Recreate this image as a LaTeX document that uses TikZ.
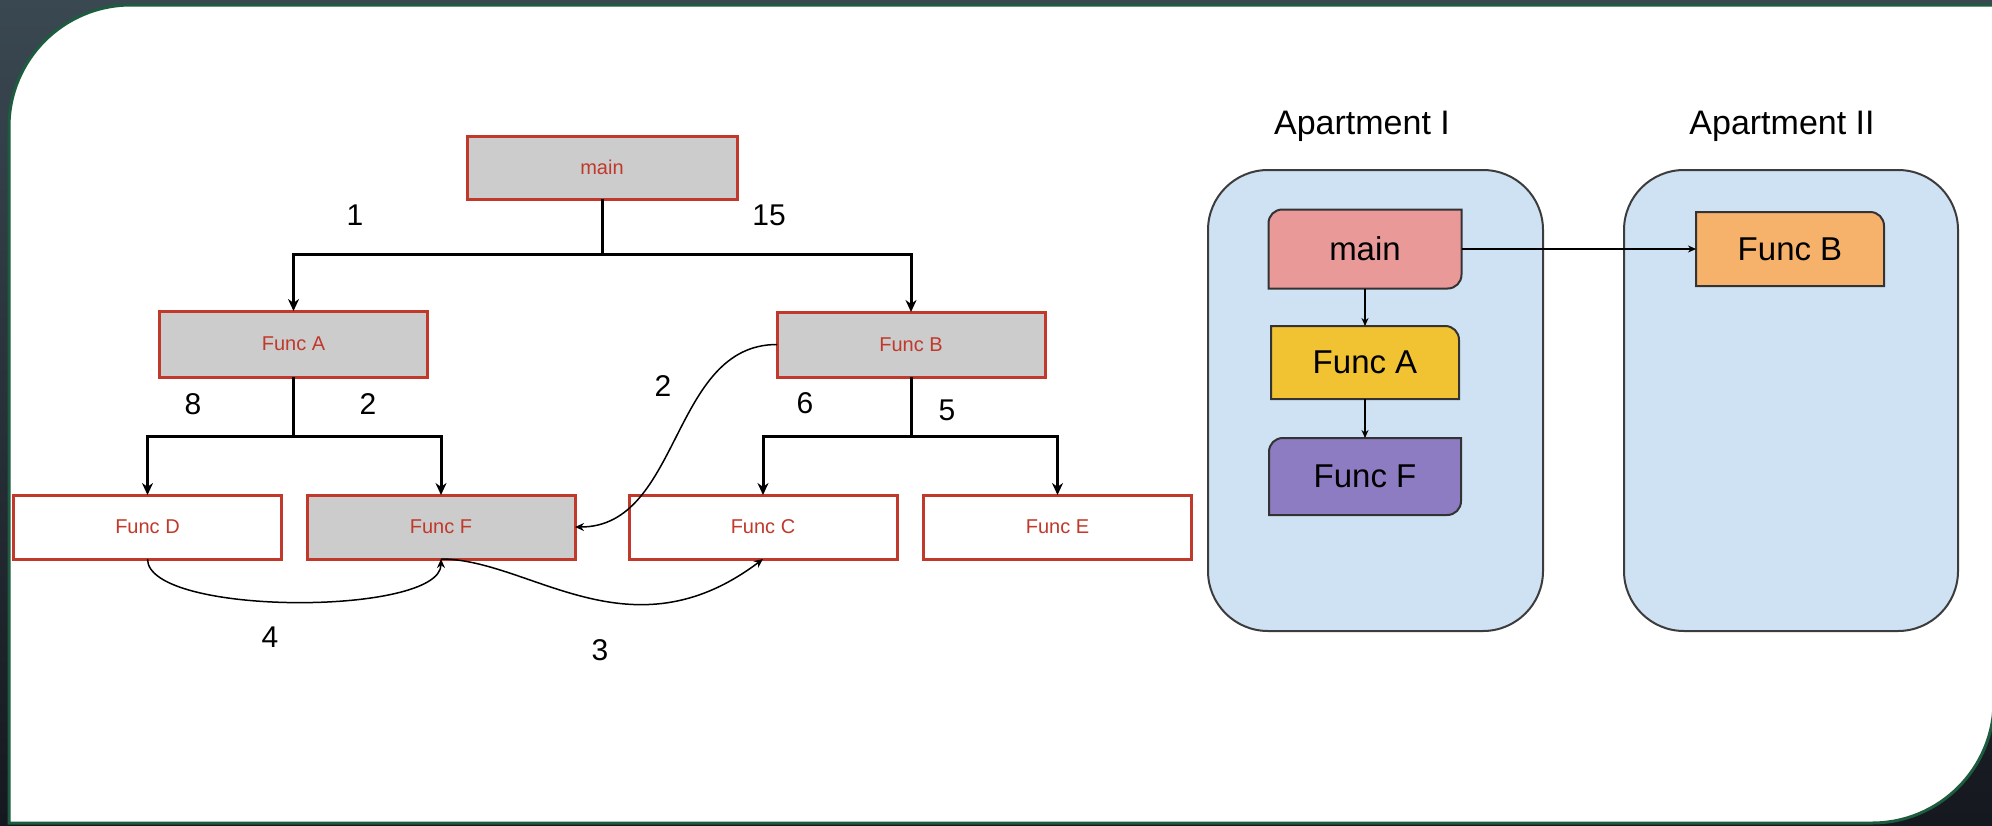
\documentclass[tikz,border=0pt]{standalone}
\usepackage{fontspec}
\setmainfont{Liberation Sans}
\usetikzlibrary{arrows.meta,calc}

\definecolor{bgtop}{HTML}{3A4852}
\definecolor{bgbot}{HTML}{15181E}
\definecolor{panelgreen}{HTML}{1D5C3E}
\definecolor{tred}{HTML}{C0392B}
\definecolor{boxgrey}{HTML}{CCCCCC}
\definecolor{aptfill}{HTML}{CFE2F3}
\definecolor{aptborder}{HTML}{3C3C3C}
\definecolor{fnborder}{HTML}{333333}
\definecolor{cmain}{HTML}{EA9999}
\definecolor{cfa}{HTML}{F1C232}
\definecolor{cff}{HTML}{8E7CC3}
\definecolor{cfb}{HTML}{F6B26B}

\pgfdeclarelayer{back}
\pgfdeclarelayer{shapes}
\pgfsetlayers{back,shapes,main}

\begin{document}
\begin{tikzpicture}[x=0.5pt,y=-0.5pt,
  treebox/.style={draw=tred, line width=1.5pt, fill=#1, text=tred,
    font=\fontsize{10}{12}\selectfont, minimum width=134pt, minimum height=32pt,
    inner sep=0pt, outer sep=0pt},
  treebox/.default=white,
  trunk/.style={line width=1.5pt, black},
  branch/.style={trunk, -{Stealth[length=6pt,width=5.5pt]}},
  jump/.style={line width=0.75pt, black, -{Stealth[length=4.5pt,width=4pt]}},
  num/.style={font=\fontsize{15}{18}\selectfont, inner sep=0pt},
  apt/.style={draw=aptborder, line width=1pt, fill=aptfill, rounded corners=30pt,
    minimum height=230.5pt, inner sep=0pt},
  aptlabel/.style={font=\fontsize{17}{20}\selectfont, inner sep=0pt},
  fn/.style={font=\fontsize{16.5}{20}\selectfont, inner sep=0pt, outer sep=0pt},
  fnshape/.style={draw=fnborder, line width=1pt},
  call/.style={line width=0.6pt, black, -{Stealth[length=4pt,width=3.5pt]}},
]
\useasboundingbox (0,0) rectangle (1992,825);

% slide background and white panel with two rounded corners
\begin{pgfonlayer}{back}
  \shade[top color=bgtop, bottom color=bgbot] (0,0) rectangle (1992,825);
  \filldraw[fill=white, draw=panelgreen, line width=1.5pt]
    (9,127) .. controls (9,59.6) and (63.6,5) .. (131,5) -- (1994,5)
    -- (1994,701) .. controls (1994,768.4) and (1939.4,823) .. (1872,823)
    -- (9,823) -- cycle;
  % apartments
  \node[apt, minimum width=167.5pt] (apt1) at (1375.5,400.5) {};
  \node[apt, minimum width=167pt] (apt2) at (1791,400.5) {};
\end{pgfonlayer}

% ---------------- call tree ----------------
\node[treebox=boxgrey, minimum width=135pt, minimum height=31.5pt] (tmain) at (602,167.5) {main};
\node[treebox=boxgrey, minimum height=33pt] (ta) at (293.5,344) {Func A};
\node[treebox=boxgrey, minimum height=32.5pt] (tb) at (911,344.5) {Func B};
\node[treebox] (td) at (147.5,527) {Func D};
\node[treebox=boxgrey] (tf) at (441,527) {Func F};
\node[treebox] (tc) at (763,527) {Func C};
\node[treebox] (te) at (1057.5,527) {Func E};

\draw[trunk] (tmain.south) -- ++(0,55) coordinate (j0);
\draw[branch] (j0) -| (ta.north);
\draw[branch] (j0) -| (tb.north);

\draw[trunk] (ta.south) -- ++(0,59) coordinate (ja);
\draw[branch] (ja) -| (td.north);
\draw[branch] (ja) -| (tf.north);

\draw[trunk] (tb.south) -- ++(0,59) coordinate (jb);
\draw[branch] (jb) -| (tc.north);
\draw[branch] (jb) -| (te.north);

% jumps between functions
\draw[jump] (tb.west) to[out=180, in=0] (tf.east);
\draw[jump] (td.south) to[out=-90, in=-90, looseness=0.5] (tf.south);
\draw[jump] (tf.south) to[out=0, in=-143, out distance=44.5pt, in distance=83.5pt] (tc.south);

% step numbers
\node[num] (n1) at (355,215) {1};
\node[num] (n15) at (769,215) {15};
\node[num] (n8) at (193,404) {8};
\node[num] (n2a) at (368,404) {2};
\node[num] (n2b) at (663,386) {2};
\node[num] (n6) at (805,403) {6};
\node[num] (n5) at (947,410) {5};
\node[num] (n4) at (270,637) {4};
\node[num] (n3) at (600,650) {3};

% ---------------- apartments ----------------
\node[aptlabel] (lab1) at (1362,126) {Apartment I};
\node[aptlabel] (lab2) at (1782,126) {Apartment II};

\node[fn, minimum width=96.5pt, minimum height=39.5pt] (rmain) at (1365,249) {main};
\node[fn, minimum width=94pt, minimum height=36.5pt] (ra) at (1365,362.5) {Func A};
\node[fn, minimum width=96pt, minimum height=38.5pt] (rf) at (1365,476.5) {Func F};
\node[fn, minimum width=94pt, minimum height=37pt] (rb) at (1790,249) {Func B};

\begin{pgfonlayer}{shapes}
  % rounded top-left and bottom-right
  \filldraw[fnshape, fill=cmain]
    ([yshift=-7pt]rmain.north west) .. controls ([yshift=-3pt]rmain.north west) and ([xshift=3pt]rmain.north west) .. ([xshift=7pt]rmain.north west)
    -- (rmain.north east) -- ([yshift=7pt]rmain.south east)
    .. controls ([yshift=3pt]rmain.south east) and ([xshift=-3pt]rmain.south east) .. ([xshift=-7pt]rmain.south east)
    -- (rmain.south west) -- cycle;
  \filldraw[fnshape, fill=cff]
    ([yshift=-7pt]rf.north west) .. controls ([yshift=-3pt]rf.north west) and ([xshift=3pt]rf.north west) .. ([xshift=7pt]rf.north west)
    -- (rf.north east) -- ([yshift=7pt]rf.south east)
    .. controls ([yshift=3pt]rf.south east) and ([xshift=-3pt]rf.south east) .. ([xshift=-7pt]rf.south east)
    -- (rf.south west) -- cycle;
  % rounded top-right only
  \filldraw[fnshape, fill=cfa]
    (ra.north west) -- ([xshift=-7pt]ra.north east)
    .. controls ([xshift=-3pt]ra.north east) and ([yshift=-3pt]ra.north east) .. ([yshift=-7pt]ra.north east)
    -- (ra.south east) -- (ra.south west) -- cycle;
  \filldraw[fnshape, fill=cfb]
    (rb.north west) -- ([xshift=-7pt]rb.north east)
    .. controls ([xshift=-3pt]rb.north east) and ([yshift=-3pt]rb.north east) .. ([yshift=-7pt]rb.north east)
    -- (rb.south east) -- (rb.south west) -- cycle;
\end{pgfonlayer}

\draw[call] (rmain.south) -- (ra.north);
\draw[call] (ra.south) -- (rf.north);
\draw[call] (rmain.east) -- (rb.west);
\end{tikzpicture}
\end{document}
